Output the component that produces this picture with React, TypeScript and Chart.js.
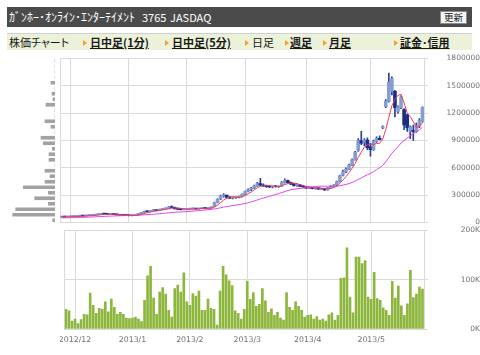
import React, { useEffect, useRef } from 'react';
import { Chart, registerables } from 'chart.js';

Chart.register(...registerables);

// ---------------- data ----------------
const monthLabels = ['2012/11', '2012/12', '2013/1', '2013/2', '2013/3', '2013/4', '2013/5'];
const monthSessions = [3, 19, 19, 19, 20, 21, 18];

// daily prices, thousand yen
const openK = [
  60, 62, 60, 63, 66, 68, 70, 73, 71, 75,
  79, 81, 85, 90, 95, 93, 90, 95, 88, 84,
  80, 78, 76, 74, 78, 84, 96, 112, 122, 118,
  128, 138, 132, 144, 148, 156, 170, 165, 150, 146,
  142, 145, 148, 150, 153, 148, 156, 158, 154, 158,
  175, 222, 258, 292, 300, 275, 268, 272, 278, 285,
  310, 340, 362, 378, 402, 428, 412, 398, 395, 390,
  396, 392, 400, 440, 460, 438, 422, 405, 410, 396,
  390, 378, 385, 372, 380, 366, 372, 358, 382, 398,
  410, 450, 520, 560, 585, 630, 690, 790, 900, 880,
  905, 830, 800, 890, 925, 1040, 1270, 1330, 1440, 1440,
  1220, 1260, 1240, 1180, 1000, 1010, 1000, 1060, 1110,
];
const highK = [
  63, 64, 64, 67, 69, 72, 74, 75, 76, 80,
  83, 86, 92, 98, 102, 96, 97, 96, 90, 86,
  82, 80, 78, 79, 85, 98, 112, 126, 128, 130,
  142, 140, 146, 152, 160, 175, 182, 168, 155, 150,
  148, 150, 154, 156, 156, 158, 162, 163, 160, 172,
  225, 262, 300, 318, 302, 285, 280, 282, 290, 315,
  345, 370, 385, 410, 440, 485, 425, 410, 402, 400,
  405, 400, 448, 478, 465, 445, 430, 418, 415, 405,
  398, 390, 388, 385, 384, 378, 374, 385, 405, 415,
  455, 520, 575, 600, 640, 700, 780, 920, 1000, 920,
  930, 870, 905, 940, 950, 1060, 1350, 1640, 1600, 1450,
  1280, 1390, 1250, 1190, 1060, 1070, 1090, 1140, 1270,
];
const lowK = [
  58, 59, 59, 62, 64, 67, 68, 69, 70, 74,
  77, 79, 84, 88, 91, 87, 89, 86, 82, 79,
  76, 74, 72, 73, 77, 83, 95, 108, 115, 116,
  125, 128, 130, 140, 146, 154, 162, 148, 142, 138,
  138, 140, 144, 146, 145, 146, 152, 150, 150, 156,
  172, 215, 250, 278, 268, 262, 260, 265, 270, 282,
  305, 335, 350, 372, 395, 405, 395, 385, 382, 380,
  388, 385, 398, 432, 430, 415, 400, 395, 392, 385,
  370, 372, 368, 365, 362, 360, 352, 356, 378, 392,
  405, 445, 510, 548, 580, 625, 685, 780, 855, 840,
  800, 727, 790, 880, 905, 1030, 1260, 1320, 1400, 1160,
  1200, 1250, 1020, 1000, 920, 900, 990, 1040, 1100,
];
const closeK = [
  62, 60, 63, 66, 68, 70, 73, 71, 75, 79,
  81, 85, 90, 95, 93, 90, 95, 88, 84, 80,
  78, 76, 74, 78, 84, 96, 110, 122, 118, 128,
  138, 132, 144, 148, 156, 170, 165, 150, 146, 142,
  145, 148, 150, 153, 148, 156, 158, 154, 158, 168,
  218, 255, 292, 300, 275, 268, 272, 278, 282, 310,
  338, 362, 378, 402, 428, 412, 398, 395, 390, 396,
  392, 398, 440, 460, 438, 422, 405, 410, 396, 390,
  378, 385, 372, 380, 366, 372, 358, 382, 398, 410,
  448, 515, 560, 585, 630, 690, 770, 900, 870, 905,
  820, 800, 890, 925, 910, 1050, 1330, 1540, 1580, 1260,
  1270, 1380, 1070, 1040, 1050, 1000, 1060, 1120, 1260,
];
// moving averages, thousand yen
const ma5K = [
  61, 61, 61, 62, 63.8, 65.4, 68, 69.6, 71.4, 73.6,
  75.8, 78.2, 82, 86, 88.8, 90.6, 92.6, 92.2, 90, 87.4,
  85, 81.2, 78.4, 77.2, 78, 81.6, 88.4, 98, 106, 114.8,
  123.2, 127.6, 132, 138, 143.6, 150, 156.6, 157.8, 157.4, 154.6,
  149.6, 146.2, 146.2, 147.6, 148.8, 151, 153, 153.8, 154.8, 158.8,
  171.2, 190.6, 218.2, 246.6, 268, 278, 281.4, 278.6, 275, 282,
  296, 314, 334, 358, 381.6, 396.4, 403.6, 407, 404.6, 398.2,
  394.2, 394.2, 403.2, 417.2, 425.6, 431.6, 433, 427, 414.2, 404.6,
  395.8, 391.8, 384.2, 381, 376.2, 375, 369.6, 371.6, 375.2, 384,
  399.2, 430.6, 466.2, 503.6, 547.6, 596, 647, 715, 772, 827,
  853, 859, 857, 868, 869, 915, 1021, 1151, 1282, 1352,
  1396, 1406, 1312, 1204, 1162, 1108, 1044, 1054, 1098,
];
const ma25K = [
  50, 51, 52, 53, 54, 55, 56, 57, 58, 59.5,
  61, 62.5, 64, 65.5, 67, 68.5, 70, 71.5, 73, 74,
  75, 76, 77, 77.5, 78.3, 79.7, 81.7, 84, 86.1, 88.5,
  91.2, 93.6, 96.5, 99.4, 102.5, 106.1, 109.3, 111.7, 113.7, 115.7,
  117.9, 120, 122.5, 125.2, 128, 131.1, 134.4, 137.6, 140.8, 144.1,
  149, 154.8, 161.6, 168.9, 174.8, 180, 185.6, 190.9, 196.3, 202.4,
  209.2, 217, 226.2, 236.4, 247.8, 258.5, 268.5, 278.3, 287.8, 297.7,
  307.2, 316.8, 328.2, 340.3, 351.1, 359.2, 365.2, 370, 373.8, 378.4,
  382.8, 387.3, 391.1, 395, 397.2, 398.6, 398.4, 398.6, 398.4, 397.7,
  399.2, 403.8, 410.4, 418.2, 427.6, 439.5, 454.4, 472.8, 489.2, 507.9,
  523.8, 539.6, 558.8, 580, 600.8, 627.6, 665.4, 712.2, 760.2, 795.9,
  831.8, 872.7, 900.2, 925.9, 951.5, 973.6, 995.4, 1017.8, 1044.8,
];
// daily volume, thousand shares
const volumeK = [
  40, 37, 16, 20, 11, 19, 30, 29, 73, 48,
  32, 42, 40, 55, 35, 61, 44, 30, 34, 30,
  22, 21, 22, 24, 20, 15, 58, 108, 127, 63,
  30, 75, 84, 71, 38, 24, 82, 89, 75, 114,
  55, 48, 72, 67, 77, 38, 38, 61, 42, 40,
  8, 77, 127, 110, 98, 88, 37, 32, 20, 40,
  97, 60, 74, 46, 50, 82, 57, 34, 41, 28,
  34, 22, 18, 74, 44, 38, 55, 46, 38, 24,
  28, 29, 20, 25, 18, 20, 16, 29, 33, 18,
  28, 103, 104, 165, 65, 33, 146, 146, 133, 139,
  65, 60, 115, 62, 58, 43, 38, 28, 97, 63,
  87, 47, 28, 51, 119, 64, 71, 85, 81,
];
// volume by price (60K-yen bands), centre of band in thousand yen
const priceBandK = [
  30, 90, 150, 210, 270, 330, 390, 450, 510, 570,
  630, 690, 750, 810, 870, 930, 990, 1050, 1110, 1170,
  1230, 1290, 1350, 1410, 1470, 1530, 1590, 1650, 1710, 1770,
];
const bandVolumeK = [
  64, 1170, 1087, 185, 562, 185, 877, 277, 138, 277,
  0, 166, 166, 75, 324, 387, 0, 111, 277, 0,
  0, 249, 55, 83, 0, 111, 0, 0, 0, 0,
];

// ---------------- helpers ----------------
const GRID = '#dadada';
const TICK = '#707070';
const AXIS_FONT = { family: 'DejaVu Sans', size: 7.5 };

const sessionLabels: string[] = [];
const monthStartLabel: Record<number, string> = {};
monthLabels.forEach((m, mi) => {
  if (mi > 0) monthStartLabel[sessionLabels.length] = m;
  for (let d = 1; d <= monthSessions[mi]; d++) sessionLabels.push(m + ' #' + d);
});
const isMonthStart = (i: number) => monthStartLabel[i] !== undefined;
const gridX = (ctx: any) => (isMonthStart(ctx.index) ? GRID : 'rgba(0,0,0,0)');

const leftBorder = (max: number) => ({
  position: 'left',
  min: 0,
  max,
  ticks: { display: false },
  grid: { drawOnChartArea: false, drawTicks: false, color: 'rgba(0,0,0,0)' },
  border: { display: true, color: GRID },
  afterFit: (s: any) => { s.width = 0; },
});

function useChart(factory: (c: HTMLCanvasElement) => Chart) {
  const ref = useRef<HTMLCanvasElement>(null);
  useEffect(() => {
    const chart = factory(ref.current as HTMLCanvasElement);
    return () => chart.destroy();
  }, []);
  return ref;
}

function makeMain(canvas: HTMLCanvasElement) {
  const k = 1000;
  const up = (i: number) => closeK[i] >= openK[i];
  return new Chart(canvas, {
    type: 'bar',
    data: {
      labels: sessionLabels,
      datasets: [
        {
          type: 'line', label: '5日移動平均', data: ma5K.map((v) => v * k),
          borderColor: '#ef3b5d', borderWidth: 1, pointRadius: 0, order: 0, yAxisID: 'y',
        } as any,
        {
          type: 'line', label: '25日移動平均', data: ma25K.map((v) => v * k),
          borderColor: '#df45ef', borderWidth: 1, pointRadius: 0, order: 1, yAxisID: 'y',
        },
        {
          type: 'bar', label: '実体',
          data: sessionLabels.map((_, i) => [Math.min(openK[i], closeK[i]) * k, Math.max(openK[i], closeK[i]) * k]),
          backgroundColor: (c: any) => (up(c.dataIndex) ? '#849ed4' : '#1b2c88'),
          barThickness: 3, grouped: false, minBarLength: 1, order: 2, yAxisID: 'y',
        },
        {
          type: 'bar', label: 'ヒゲ',
          data: sessionLabels.map((_, i) => [lowK[i] * k, highK[i] * k]),
          backgroundColor: '#2c3f93', barThickness: 1, grouped: false, minBarLength: 1, order: 3, yAxisID: 'y',
        },
      ],
    },
    options: {
      responsive: false,
      animation: false,
      layout: { padding: { top: 6, bottom: 6, left: 0, right: 0 } },
      plugins: { legend: { display: false }, tooltip: { enabled: false } },
      scales: {
        x: {
          offset: true,
          grid: { offset: false, drawTicks: false, color: gridX },
          ticks: { display: false, autoSkip: false },
          border: { display: false },
          afterFit: (s: any) => { s.height = 0; },
        },
        y: {
          position: 'right',
          min: 0,
          max: 1800000,
          ticks: {
            stepSize: 300000, color: TICK, font: AXIS_FONT, padding: 2, crossAlign: 'far',
            callback: (v: any) => String(v),
          },
          grid: { color: GRID, tickLength: 4 },
          border: { color: GRID },
          afterFit: (s: any) => { s.width = 56; },
        },
        yL: leftBorder(1800000),
      } as any,
    },
  });
}

function makeVbp(canvas: HTMLCanvasElement) {
  return new Chart(canvas, {
    type: 'bar',
    data: {
      datasets: [
        {
          label: '価格帯別出来高',
          data: priceBandK.map((p, i) => ({ x: bandVolumeK[i], y: p * 1000 })),
          backgroundColor: '#a2a2a2',
          barThickness: 3,
        },
      ],
    },
    options: {
      indexAxis: 'y',
      responsive: false,
      animation: false,
      layout: { padding: { top: 6, bottom: 6, left: 0, right: 0 } },
      plugins: { legend: { display: false }, tooltip: { enabled: false } },
      scales: {
        x: { type: 'linear', display: false, reverse: true, min: 0, max: 1300 },
        y: { type: 'linear', display: false, offset: false, min: 0, max: 1800000 },
      },
    },
  });
}

function makeVolume(canvas: HTMLCanvasElement) {
  return new Chart(canvas, {
    type: 'bar',
    data: {
      labels: sessionLabels,
      datasets: [
        {
          label: '出来高', data: volumeK, backgroundColor: '#8db63c',
          barThickness: 2, yAxisID: 'y',
        },
      ],
    },
    options: {
      responsive: false,
      animation: false,
      layout: { padding: { top: 6, bottom: 0, left: 0, right: 0 } },
      plugins: { legend: { display: false }, tooltip: { enabled: false } },
      scales: {
        x: {
          offset: true,
          grid: { offset: false, drawTicks: false, color: gridX },
          border: { display: false },
          ticks: {
            autoSkip: false, maxRotation: 0, minRotation: 0, padding: 6,
            color: TICK, font: { family: 'DejaVu Sans', size: 7.8 },
            callback: (_v: any, i: number) => monthStartLabel[i] ?? '',
          },
          afterFit: (s: any) => { s.height = 26; },
        },
        y: {
          position: 'right',
          min: 0,
          max: 200,
          ticks: {
            stepSize: 100, color: TICK, font: AXIS_FONT, padding: 2, crossAlign: 'far',
            callback: (v: any) => v + 'K',
          },
          grid: { color: GRID, tickLength: 4 },
          border: { color: GRID },
          afterFit: (s: any) => { s.width = 56; },
        },
        yL: leftBorder(200),
      } as any,
    },
  });
}

const menuFont = '"Noto Sans CJK JP", "Noto Sans CJK SC", sans-serif';

function Arrow({ x }: { x: number }) {
  return (
    <span
      style={{
        position: 'absolute', left: x, top: 6, width: 0, height: 0,
        borderLeft: '4px solid #f2a22c', borderTop: '3px solid transparent', borderBottom: '3px solid transparent',
      }}
    />
  );
}

function MenuItem({ x, text, link }: { x: number; text: string; link?: boolean }) {
  return (
    <span
      style={{
        position: 'absolute', left: x, top: 0, lineHeight: '17px', fontSize: 11,
        fontWeight: link ? 'bold' : 'normal', textDecoration: link ? 'underline' : 'none',
        color: '#1a1a1a', whiteSpace: 'nowrap', fontFeatureSettings: '"palt"',
      }}
    >
      {text}
    </span>
  );
}

export default function App() {
  const mainRef = useChart(makeMain);
  const vbpRef = useChart(makeVbp);
  const volRef = useChart(makeVolume);
  return (
    <div
      style={{
        position: 'absolute', left: 0, top: 0, width: 480, height: 355, background: '#fff',
        overflow: 'hidden', fontFamily: menuFont,
      }}
    >
      <div style={{ position: 'absolute', left: 7, top: 7, width: 465, height: 20, background: '#4b4b4b' }}>
        <span style={{ position: 'absolute', left: 2, top: 0, lineHeight: '20px', fontSize: 12, color: '#fff', whiteSpace: 'nowrap' }}>
          ｶﾞﾝﾎｰ･ｵﾝﾗｲﾝ･ｴﾝﾀｰﾃｲﾒﾝﾄ
        </span>
        <span style={{ position: 'absolute', left: 135, top: 0, lineHeight: '20px', fontSize: 11, color: '#fff' }}>3765</span>
        <span style={{ position: 'absolute', left: 163, top: 0, lineHeight: '20px', fontSize: 11, color: '#fff' }}>JASDAQ</span>
        <span
          style={{
            position: 'absolute', left: 433, top: 4, width: 25, height: 11, background: '#f6f6f6',
            border: '1px solid #8a8a8a', fontSize: 9.5, lineHeight: '11px', textAlign: 'center', color: '#111',
          }}
        >
          更新
        </span>
      </div>
      <div
        style={{
          position: 'absolute', left: 7, top: 33, width: 465, height: 17, background: '#ebf2d9',
          borderTop: '1px solid #cfcfcf', boxSizing: 'border-box',
        }}
      >
        <MenuItem x={2} text="株価チャート" />
        <Arrow x={76} />
        <MenuItem x={83} text="日中足(1分)" link />
        <Arrow x={158} />
        <MenuItem x={165} text="日中足(5分)" link />
        <Arrow x={238} />
        <MenuItem x={245} text="日足" />
        <Arrow x={278} />
        <MenuItem x={283} text="週足" link />
        <Arrow x={316} />
        <MenuItem x={322} text="月足" link />
        <Arrow x={387} />
        <MenuItem x={393} text="証金･信用" link />
      </div>
      <canvas ref={vbpRef} width={47} height={177} style={{ position: 'absolute', left: 8, top: 52 }} />
      <canvas ref={mainRef} width={420} height={177} style={{ position: 'absolute', left: 60, top: 52 }} />
      <canvas ref={volRef} width={420} height={131} style={{ position: 'absolute', left: 60, top: 224 }} />
    </div>
  );
}
